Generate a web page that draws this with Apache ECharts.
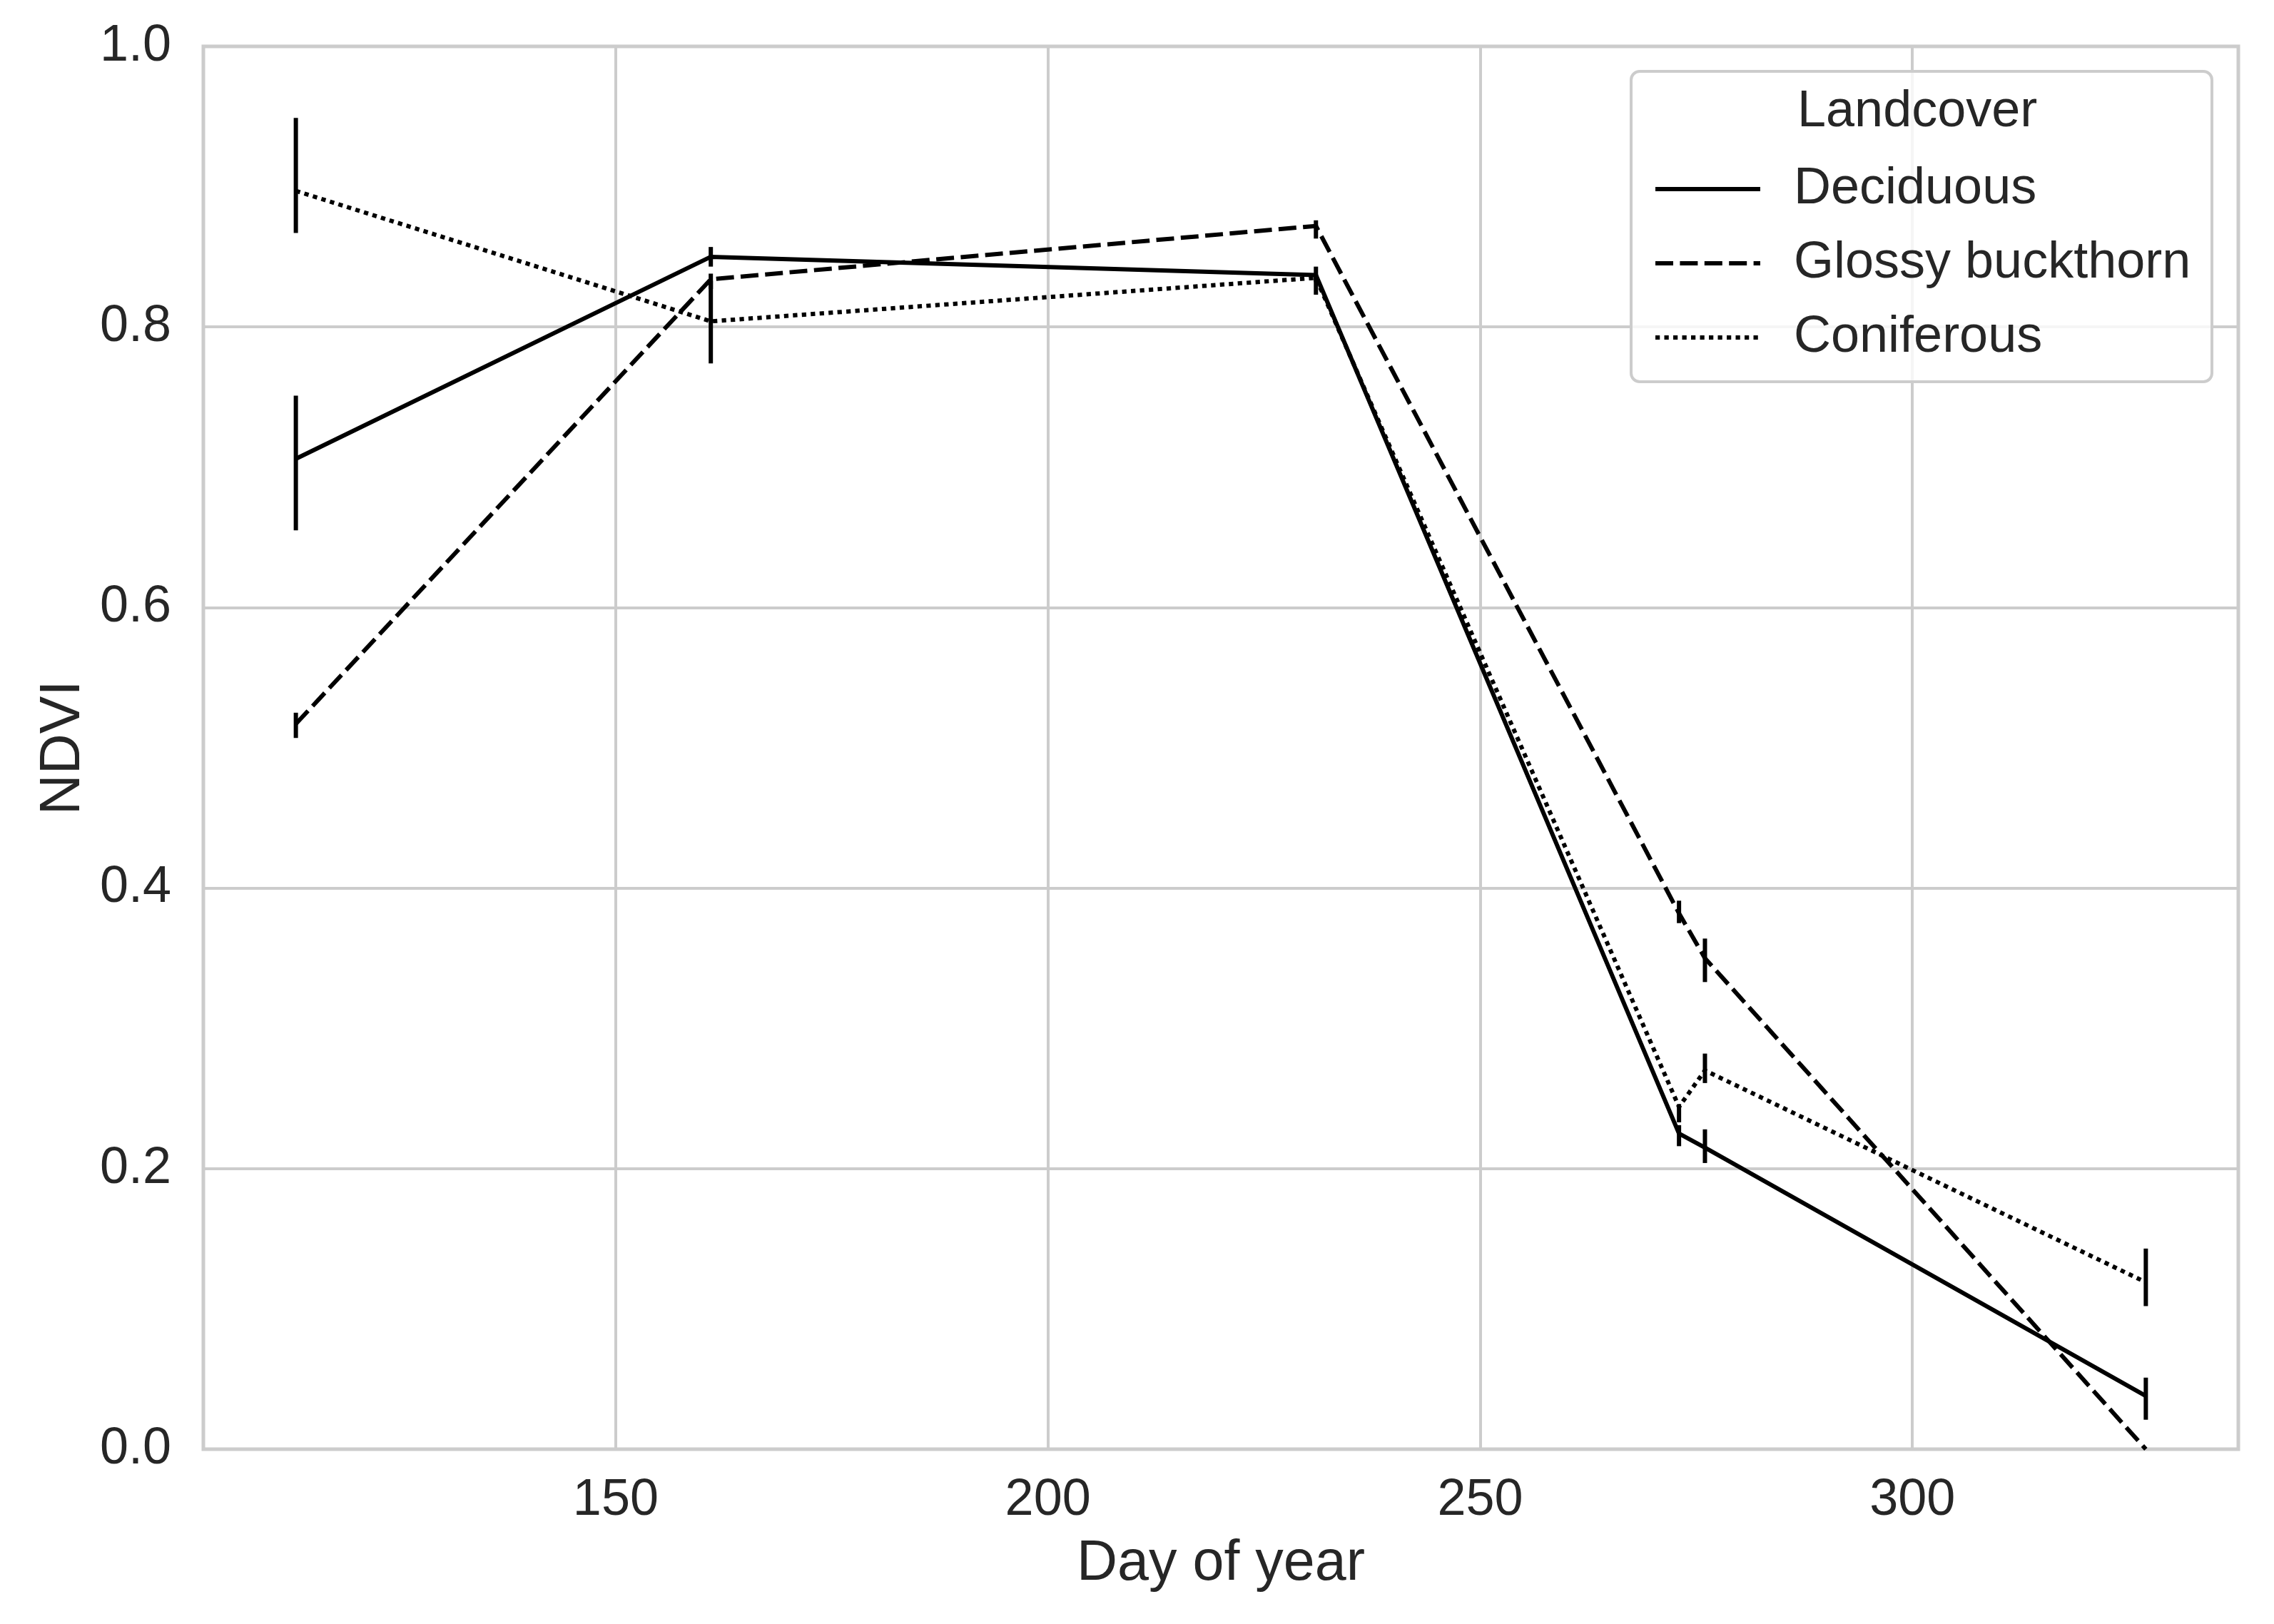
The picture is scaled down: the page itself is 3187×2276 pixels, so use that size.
<!DOCTYPE html>
<html><head><meta charset="utf-8">
<script src="https://cdn.jsdelivr.net/npm/echarts@6/dist/echarts.min.js"></script>
<style>html,body{margin:0;padding:0;background:#fff}#c{width:3187px;height:2276px}</style>
</head><body><div id="c"></div>
<script>
// ---- data ----
const days = [113, 161, 231, 273, 276, 327];
const seriesNames = ['Deciduous', 'Glossy buckthorn', 'Coniferous'];
const deciduousMean = [0.706, 0.850, 0.837, 0.225, 0.215, 0.038];
const deciduousLow  = [0.655, 0.843, 0.823, 0.216, 0.204, 0.021];
const deciduousHigh = [0.751, 0.857, 0.843, 0.231, 0.228, 0.051];
const glossyMean = [0.517, 0.834, 0.872, 0.382, 0.350, 0.000];
const glossyLow  = [0.507, 0.827, 0.863, 0.375, 0.333, 0.000];
const glossyHigh = [0.525, 0.838, 0.876, 0.391, 0.364, 0.000];
const coniferousMean = [0.897, 0.804, 0.835, 0.244, 0.270, 0.119];
const coniferousLow  = [0.867, 0.774, 0.832, 0.233, 0.261, 0.102];
const coniferousHigh = [0.949, 0.833, 0.837, 0.246, 0.282, 0.143];
const xTicks = [150, 200, 250, 300];
const legendTitle = 'Landcover';
const xName = 'Day of year';
const yName = 'NDVI';

const FONT = '"Liberation Sans", Arial, sans-serif';
const TXT = '#262626';
const GRIDC = '#cccccc';

function lineSeries(name, vals, dash) {
  return {
    type: 'line', name: name, symbol: 'none', silent: true,
    data: days.map((d, i) => [d, vals[i]]),
    lineStyle: { color: '#000', width: 6, type: dash, cap: 'butt' },
    itemStyle: { color: '#000' },
    z: 3
  };
}
function errSeries(name, low, high) {
  return {
    type: 'custom', name: name + ' CI', silent: true,
    data: days.map((d, i) => [d, low[i], high[i]]),
    encode: { x: 0, y: [1, 2] },
    renderItem: function (params, api) {
      const p1 = api.coord([api.value(0), api.value(1)]);
      const p2 = api.coord([api.value(0), api.value(2)]);
      return { type: 'line', shape: { x1: p1[0], y1: p1[1], x2: p2[0], y2: p2[1] },
               style: { stroke: '#000', lineWidth: 6 } };
    },
    z: 3
  };
}

const chart = echarts.init(document.getElementById('c'), null, { renderer: 'canvas' });
chart.setOption({
  animation: false,
  backgroundColor: '#fff',
  grid: { left: 285, top: 65, right: 50, bottom: 245, show: true,
          borderColor: GRIDC, borderWidth: 5, backgroundColor: 'transparent' },
  xAxis: {
    type: 'value', min: 102.3, max: 337.7,
    name: xName, nameLocation: 'middle', nameGap: 122,
    nameTextStyle: { fontSize: 79, color: TXT, fontFamily: FONT },
    axisLine: { show: false }, axisTick: { show: false, customValues: xTicks },
    axisLabel: { customValues: xTicks, fontSize: 72, color: TXT, fontFamily: FONT, margin: 36 },
    splitLine: { show: true, lineStyle: { color: GRIDC, width: 4 } }
  },
  yAxis: {
    type: 'value', min: 0, max: 1, interval: 0.2,
    name: yName, nameLocation: 'middle', nameGap: 147,
    nameTextStyle: { fontSize: 79, color: TXT, fontFamily: FONT },
    axisLine: { show: false }, axisTick: { show: false },
    axisLabel: { fontSize: 72, color: TXT, fontFamily: FONT, margin: 45,
                 formatter: v => v.toFixed(1) },
    splitLine: { show: true, lineStyle: { color: GRIDC, width: 4 } }
  },
  legend: {
    data: seriesNames, orient: 'vertical', left: 2312, top: 224,
    itemWidth: 147, itemHeight: 72, itemGap: 32, selectedMode: false,
    textStyle: { fontSize: 72, color: TXT, fontFamily: FONT, lineHeight: 72, padding: [0, 0, 0, 42] },
    lineStyle: { width: 6 },
    itemStyle: { opacity: 0, color: 'rgba(0,0,0,0)', borderWidth: 0 },
    z: 10
  },
  graphic: [
    { type: 'rect', z: 8, shape: { x: 2286, y: 100, width: 814, height: 435, r: 12 },
      style: { fill: 'rgba(255,255,255,0.8)', stroke: GRIDC, lineWidth: 4 } },
    { type: 'text', z: 9, x: 2519, y: 157,
      style: { text: legendTitle, font: '72px ' + FONT, fill: TXT, verticalAlign: 'middle', align: 'left' } }
  ],
  series: [
    lineSeries(seriesNames[0], deciduousMean, 'solid'),
    lineSeries(seriesNames[1], glossyMean, [25, 9.4]),
    lineSeries(seriesNames[2], coniferousMean, [6.25, 6.25]),
    errSeries(seriesNames[0], deciduousLow, deciduousHigh),
    errSeries(seriesNames[1], glossyLow, glossyHigh),
    errSeries(seriesNames[2], coniferousLow, coniferousHigh)
  ]
});
</script></body></html>
